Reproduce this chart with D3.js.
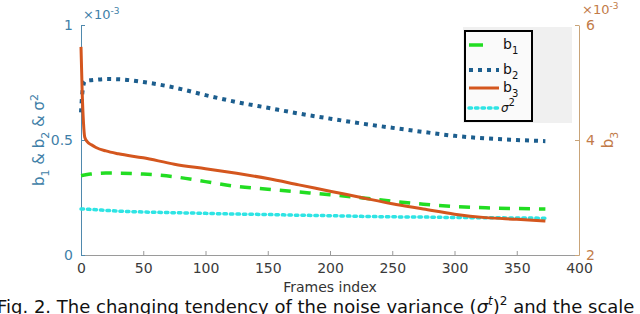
<!DOCTYPE html>
<html>
<head>
<meta charset="utf-8">
<script src="https://cdn.jsdelivr.net/npm/d3@7"></script>
<style>
  body { margin: 0; background: #fff; overflow: hidden; }
  text { font-family: "DejaVu Sans", sans-serif; }
</style>
</head>
<body>
<div id="graph"></div>
<script>
// values (b1, b2, sigma2, b3 all in units of 1e-3)
var frames = [0, 1, 2, 3, 5, 8, 12, 20, 30, 50, 75, 100, 125, 150, 175, 200, 225, 250, 275, 300, 325, 350, 373];
var b1 = [0.345, 0.346, 0.347, 0.348, 0.35, 0.352, 0.354, 0.356, 0.356, 0.352, 0.34, 0.319, 0.298, 0.286, 0.274, 0.262, 0.249, 0.234, 0.221, 0.211, 0.205, 0.202, 0.2];
var b2 = [0.62, 0.7, 0.74, 0.755, 0.758, 0.76, 0.762, 0.765, 0.764, 0.752, 0.728, 0.695, 0.665, 0.64, 0.615, 0.593, 0.572, 0.553, 0.535, 0.518, 0.507, 0.5, 0.495];
var sigma2 = [0.2, 0.2, 0.2, 0.199, 0.199, 0.198, 0.197, 0.194, 0.191, 0.187, 0.184, 0.181, 0.178, 0.176, 0.173, 0.171, 0.168, 0.166, 0.165, 0.163, 0.162, 0.161, 0.16];
var b3 = [5.62, 4.8, 4.3, 4.05, 3.97, 3.92, 3.87, 3.81, 3.76, 3.69, 3.58, 3.5, 3.42, 3.33, 3.22, 3.11, 3.0, 2.89, 2.8, 2.71, 2.65, 2.62, 2.59];

var xTicks = [0, 50, 100, 150, 200, 250, 300, 350, 400];
var leftTicks = [0, 0.5, 1];
var rightTicks = [2, 4, 6];

var width = 640, height = 314;
var margin = {top: 25, right: 61, bottom: 59, left: 81};

var svg = d3.select('#graph').append('svg')
	.attr('width', width)
	.attr('height', height);

var x = d3.scaleLinear().domain([0, 400]).range([margin.left, width - margin.right]);
var yL = d3.scaleLinear().domain([0, 1]).range([height - margin.bottom, margin.top]);
var yR = d3.scaleLinear().domain([2, 6]).range([height - margin.bottom, margin.top]);

var blueAxis = '#4f89ad', blueText = '#3f7fa8';
var brownAxis = '#c9a479', brownText = '#c27b48';

// bottom axis
var xAxis = svg.append('g')
	.attr('transform', 'translate(0,' + (height - margin.bottom) + ')')
	.call(d3.axisBottom(x).tickValues(xTicks).tickSize(-4).tickPadding(8).tickSizeOuter(0));
xAxis.select('.domain').attr('stroke', '#9a9a9a');
xAxis.selectAll('.tick line').attr('stroke', '#9a9a9a');
xAxis.selectAll('.tick text').attr('font-size', 14).attr('fill', '#3a3a3a')
	.attr('font-family', '"DejaVu Sans", sans-serif');

// left axis
var lAxis = svg.append('g')
	.attr('transform', 'translate(' + margin.left + ',0)')
	.call(d3.axisLeft(yL).tickValues(leftTicks).tickSize(-4).tickPadding(8).tickSizeOuter(0)
		.tickFormat(function(d) { return d === 0.5 ? '0.5' : d; }));
lAxis.select('.domain').attr('stroke', blueAxis);
lAxis.selectAll('.tick line').attr('stroke', blueAxis);
lAxis.selectAll('.tick text').attr('font-size', 14).attr('fill', blueText)
	.attr('font-family', '"DejaVu Sans", sans-serif');

// right axis
var rAxis = svg.append('g')
	.attr('transform', 'translate(' + (width - margin.right) + ',0)')
	.call(d3.axisRight(yR).tickValues(rightTicks).tickSize(-4).tickPadding(7).tickSizeOuter(0)
		.tickFormat(d3.format('d')));
rAxis.select('.domain').attr('stroke', brownAxis);
rAxis.selectAll('.tick line').attr('stroke', brownAxis);
rAxis.selectAll('.tick text').attr('font-size', 14).attr('fill', brownText)
	.attr('font-family', '"DejaVu Sans", sans-serif');

// exponent labels
var expL = svg.append('text').attr('x', margin.left + 2).attr('y', 19)
	.attr('font-size', 13).attr('fill', blueText);
expL.append('tspan').text('\u00d710');
expL.append('tspan').attr('dy', -5).attr('font-size', 9).text('-3');

var expR = svg.append('text').attr('x', width - margin.right + 3).attr('y', 14)
	.attr('font-size', 13).attr('fill', brownText);
expR.append('tspan').text('\u00d710');
expR.append('tspan').attr('dy', -5).attr('font-size', 9).text('-3');

// axis titles
var yLab = svg.append('text')
	.attr('transform', 'translate(44,' + yL(0.5) + ') rotate(-90)')
	.attr('text-anchor', 'middle')
	.attr('font-size', 15).attr('fill', blueText);
yLab.append('tspan').text('b');
yLab.append('tspan').attr('dy', 5).attr('font-size', 11).text('1');
yLab.append('tspan').attr('dy', -5).text(' & b');
yLab.append('tspan').attr('dy', 5).attr('font-size', 11).text('2');
yLab.append('tspan').attr('dy', -5).text(' & \u03c3');
yLab.append('tspan').attr('dy', -6).attr('font-size', 11).text('2');

var yRLab = svg.append('text')
	.attr('transform', 'translate(613,' + yR(4) + ') rotate(-90)')
	.attr('text-anchor', 'middle')
	.attr('font-size', 15).attr('fill', brownText);
yRLab.append('tspan').text('b');
yRLab.append('tspan').attr('dy', 5).attr('font-size', 11).text('3');

svg.append('text').attr('x', x(200)).attr('y', 292)
	.attr('text-anchor', 'middle').attr('font-size', 14).attr('fill', '#333')
	.text('Frames index');

// caption (cut off by the image edge, as in the source)
var cap = svg.append('text').attr('x', -3).attr('y', 313)
	.attr('font-family', '"Liberation Sans", Arial, sans-serif')
	.attr('font-size', 18).attr('fill', '#111');
cap.append('tspan').text('Fig. 2. The changing tendency of the noise variance (');
cap.append('tspan').attr('font-style', 'italic').text('\u03c3');
cap.append('tspan').attr('dy', -8).attr('font-size', 12).attr('font-style', 'italic').text('t');
cap.append('tspan').attr('dy', 8).text(')');
cap.append('tspan').attr('dy', -8).attr('font-size', 12).text('2');
cap.append('tspan').attr('dy', 8).text(' and the scale');

// legend background + box
svg.append('rect').attr('x', 463).attr('y', 27).attr('width', 109).attr('height', 96)
	.attr('fill', '#f0f0f0');
svg.append('rect').attr('x', 465).attr('y', 31).attr('width', 67).attr('height', 90)
	.attr('fill', '#fafafa').attr('stroke', '#000').attr('stroke-width', 2);

// series
var series = [
	{name: 'b1', vals: b1, y: yL, color: '#22dd22', width: 3.5, dash: '11,9', cap: 'butt', sub: '1', ly: 45},
	{name: 'b2', vals: b2, y: yL, color: '#1c5e8e', width: 4, dash: '4,5', cap: 'butt', sub: '2', ly: 70},
	{name: 'b3', vals: b3, y: yR, color: '#d4561e', width: 3, dash: null, cap: 'butt', sub: '3', ly: 88},
	{name: 's2', vals: sigma2, y: yL, color: '#2ee4e4', width: 3.5, dash: '2.5,4', cap: 'round', sub: null, ly: 108}
];

var order = [series[3], series[0], series[1], series[2]];
order.forEach(function(s) {
	var line = d3.line()
		.x(function(d, i) { return x(frames[i]); })
		.y(function(d) { return s.y(d); })
		.curve(d3.curveMonotoneX);
	svg.append('path').datum(s.vals)
		.attr('d', line)
		.attr('fill', 'none')
		.attr('stroke', s.color)
		.attr('stroke-width', s.width)
		.attr('stroke-linecap', s.cap)
		.attr('stroke-dasharray', s.dash);
});

// legend entries
series.forEach(function(s) {
	var x2 = s.name === 'b1' ? 483 : 499;
	svg.append('line').attr('x1', 469).attr('x2', x2).attr('y1', s.ly).attr('y2', s.ly)
		.attr('stroke', s.color).attr('stroke-width', s.width)
		.attr('stroke-linecap', s.cap)
		.attr('stroke-dasharray', s.name === 'b1' ? null : s.dash);
	var t = svg.append('text').attr('x', s.sub ? 503 : 501).attr('y', s.ly + 4)
		.attr('font-size', s.sub ? 14 : 12).attr('fill', '#111');
	if (s.sub) {
		t.append('tspan').text('b');
		t.append('tspan').attr('dy', 5).attr('font-size', 10).text(s.sub);
	} else {
		t.append('tspan').attr('font-style', 'italic').text('\u03c3');
		t.append('tspan').attr('dy', -6).attr('font-size', 10).text('2');
	}
});
</script>
</body>
</html>
